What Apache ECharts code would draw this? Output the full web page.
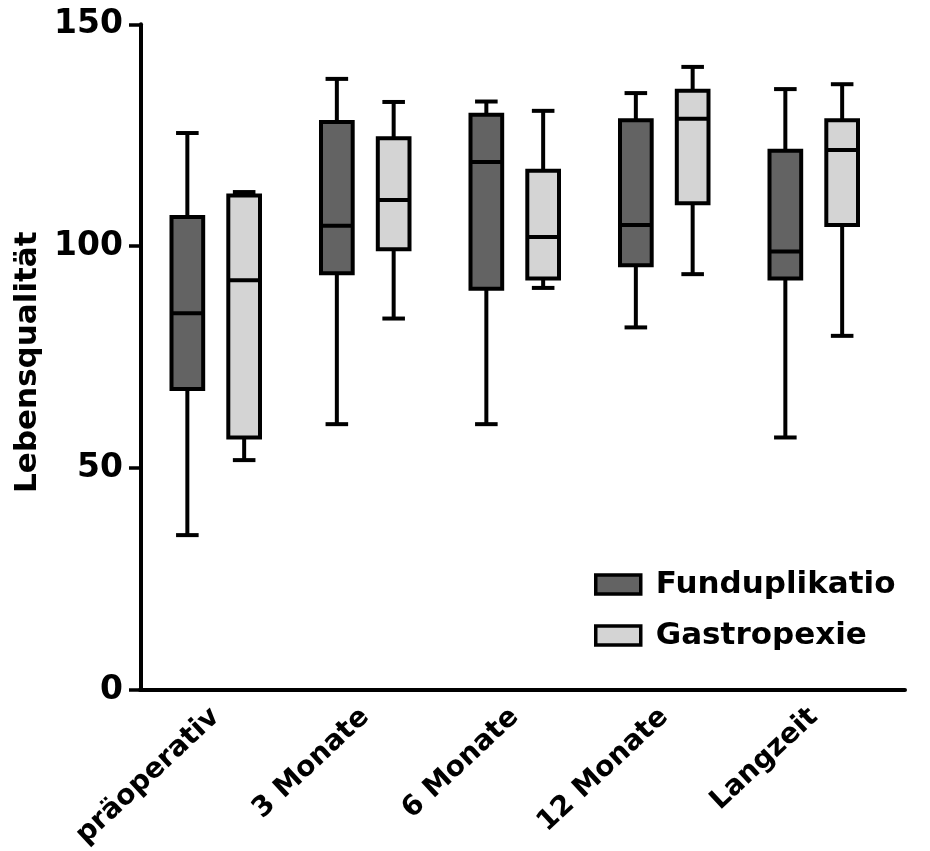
<!DOCTYPE html>
<html>
<head>
<meta charset="utf-8">
<script src="https://cdn.jsdelivr.net/npm/echarts@6/dist/echarts.min.js"></script>
<style>html,body{margin:0;padding:0;background:#fff}#c{width:930px;height:851px}</style>
</head>
<body>
<div id="c"></div>
<script>
// ---- data ----
const categories = ['präoperativ', '3 Monate', '6 Monate', '12 Monate', 'Langzeit'];
const seriesNames = ['Funduplikatio', 'Gastropexie'];
const yTicks = [0, 50, 100, 150];
// [min, Q1, median, Q3, max]
const funduplikatio = [
  [34.9, 67.8, 84.9, 106.6, 125.5],
  [59.9, 93.9, 104.6, 128.0, 137.7],
  [59.9, 90.4, 119.0, 129.6, 132.6],
  [81.7, 95.7, 104.8, 128.4, 134.5],
  [56.9, 92.7, 98.8, 121.5, 135.4]
];
const gastropexie = [
  [51.8, 56.9, 92.3, 111.4, 112.2],
  [83.7, 99.3, 110.4, 124.3, 132.5],
  [90.6, 92.7, 102.1, 117.0, 130.5],
  [93.7, 109.7, 128.7, 135.0, 140.4],
  [79.8, 104.8, 121.7, 128.4, 136.5]
];
const colors = ['#636363', '#d4d4d4'];

const FONT = 'DejaVu Sans';
const LW = 4;

function makeRender(sign, fill) {
  return function (params, api) {
    const ci = api.value(0);
    const band = api.size([1, 0])[0];
    const cx = api.coord([ci, 0])[0] + sign * band * 0.19;
    const hw = band * 0.106;
    const cw = band * 0.0755;
    const y = function (i) { return api.coord([ci, api.value(i)])[1]; };
    const yMin = y(1), yQ1 = y(2), yMed = y(3), yQ3 = y(4), yMax = y(5);
    const ls = { stroke: '#000', lineWidth: LW, lineCap: 'butt' };
    return {
      type: 'group',
      children: [
        { type: 'line', shape: { x1: cx, y1: yMax, x2: cx, y2: yQ3 }, style: ls },
        { type: 'line', shape: { x1: cx, y1: yQ1, x2: cx, y2: yMin }, style: ls },
        { type: 'line', shape: { x1: cx - cw, y1: yMax, x2: cx + cw, y2: yMax }, style: ls },
        { type: 'line', shape: { x1: cx - cw, y1: yMin, x2: cx + cw, y2: yMin }, style: ls },
        { type: 'rect', shape: { x: cx - hw, y: yQ3, width: 2 * hw, height: yQ1 - yQ3 },
          style: { fill: fill, stroke: '#000', lineWidth: LW } },
        { type: 'line', shape: { x1: cx - hw, y1: yMed, x2: cx + hw, y2: yMed }, style: ls }
      ]
    };
  };
}

function toData(arr) {
  return arr.map(function (d, i) { return [i].concat(d); });
}

const chart = echarts.init(document.getElementById('c'), null, { renderer: 'canvas' });
chart.setOption({
  animation: false,
  backgroundColor: '#fff',
  grid: [
    { left: 141, top: 24.3, width: 747.5, height: 665.7, containLabel: false, outerBoundsMode: 'none' },
    { left: 140, top: 24.3, right: 25, height: 665.7, containLabel: false, outerBoundsMode: 'none' }
  ],
  legend: {
    left: 589,
    top: 564,
    orient: 'vertical',
    itemWidth: 45,
    itemHeight: 19,
    itemGap: 20,
    textStyle: { fontFamily: FONT, fontWeight: 'bold', fontSize: 31, color: '#000', padding: [0, 0, 0, 10] },
    data: [
      { name: seriesNames[0], icon: 'rect', itemStyle: { color: colors[0], borderColor: '#000', borderWidth: 3.5 } },
      { name: seriesNames[1], icon: 'rect', itemStyle: { color: colors[1], borderColor: '#000', borderWidth: 3.5 } }
    ]
  },
  xAxis: [
    {
      type: 'category', gridIndex: 0, data: categories,
      axisLine: { show: false }, axisTick: { show: false },
      axisLabel: { rotate: 43, interval: 0, margin: 23, fontFamily: FONT, fontWeight: 'bold', fontSize: 28, color: '#000' }
    },
    {
      type: 'value', gridIndex: 1, min: 0, max: 1,
      axisLine: { show: true, onZero: false, lineStyle: { color: '#000', width: 4 } },
      axisTick: { show: false }, axisLabel: { show: false }, splitLine: { show: false }
    }
  ],
  yAxis: [
    {
      type: 'value', gridIndex: 0, min: 0, max: 150, interval: 50,
      name: 'Lebensqualität', nameLocation: 'middle', nameGap: 96,
      nameTextStyle: { fontFamily: FONT, fontWeight: 'bold', fontSize: 31, color: '#000', padding: [0, 10, 0, 0] },
      axisLine: { show: true, lineStyle: { color: '#000', width: 4 } },
      axisTick: { show: true, length: 12, lineStyle: { color: '#000', width: 3.5 } },
      axisLabel: { margin: 18, fontFamily: FONT, fontWeight: 'bold', fontSize: 33, color: '#000', padding: [5, 0, 0, 0],
        formatter: function (v) { return yTicks.indexOf(v) >= 0 ? String(v) : ''; } },
      splitLine: { show: false }
    },
    {
      type: 'value', gridIndex: 1, min: 0, max: 150, show: false
    }
  ],
  series: [
    {
      name: seriesNames[0], type: 'custom', xAxisIndex: 0, yAxisIndex: 0,
      itemStyle: { color: colors[0], borderColor: '#000', borderWidth: 3 },
      renderItem: makeRender(-1, colors[0]),
      encode: { x: 0, y: [1, 2, 3, 4, 5] },
      data: toData(funduplikatio), z: 3
    },
    {
      name: seriesNames[1], type: 'custom', xAxisIndex: 0, yAxisIndex: 0,
      itemStyle: { color: colors[1], borderColor: '#000', borderWidth: 3 },
      renderItem: makeRender(1, colors[1]),
      encode: { x: 0, y: [1, 2, 3, 4, 5] },
      data: toData(gastropexie), z: 3
    }
  ]
});
</script>
</body>
</html>
